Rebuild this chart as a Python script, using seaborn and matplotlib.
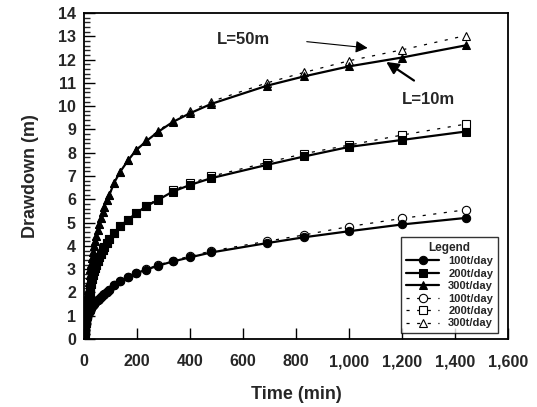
import numpy as np
import pandas as pd
import matplotlib
matplotlib.use('Agg')
import matplotlib.pyplot as plt
import seaborn as sns
from matplotlib.ticker import MultipleLocator, FuncFormatter

# pumping time (min)
time_min = [0, 1, 2, 3, 4, 5, 6, 8, 10, 12, 14, 17, 20, 23, 26, 30, 34, 38, 42, 46, 51,
            57, 63, 70, 76, 85, 95, 113, 136, 165, 195, 234, 279, 334, 400, 480,
            690, 830, 1000, 1200, 1440]

# drawdown (m), L=10m (solid, filled markers)
s100_l10 = [0, 0.2, 0.35, 0.45, 0.55, 0.63, 0.7, 0.82, 0.92, 1.0, 1.07, 1.15, 1.22, 1.28,
            1.33, 1.4, 1.46, 1.52, 1.57, 1.62, 1.68, 1.74, 1.8, 1.87, 1.93, 2.02, 2.12,
            2.3, 2.48, 2.65, 2.82, 2.98, 3.15, 3.33, 3.51, 3.72, 4.12, 4.37, 4.63, 4.92, 5.2]
s200_l10 = [0, 0.15, 0.3, 0.45, 0.58, 0.7, 0.8, 1.0, 1.2, 1.38, 1.55, 1.78, 1.98, 2.17,
            2.35, 2.57, 2.75, 2.92, 3.07, 3.2, 3.35, 3.52, 3.67, 3.82, 3.95, 4.12, 4.28,
            4.56, 4.86, 5.12, 5.4, 5.7, 5.98, 6.33, 6.62, 6.91, 7.48, 7.84, 8.25, 8.55, 8.91]
s300_l10 = [0, 0.25, 0.45, 0.65, 0.82, 0.98, 1.12, 1.4, 1.65, 1.9, 2.12, 2.45, 2.75, 3.0,
            3.22, 3.5, 3.75, 3.98, 4.2, 4.42, 4.68, 4.95, 5.2, 5.45, 5.68, 5.95, 6.2,
            6.72, 7.19, 7.67, 8.1, 8.5, 8.9, 9.32, 9.7, 10.1, 10.88, 11.28, 11.71, 12.09, 12.61]

# drawdown (m), L=50m (dashed, open markers)
s100_l50 = [0, 0.2, 0.35, 0.45, 0.55, 0.63, 0.7, 0.82, 0.92, 1.0, 1.07, 1.15, 1.22, 1.28,
            1.33, 1.4, 1.46, 1.52, 1.57, 1.62, 1.68, 1.74, 1.8, 1.87, 1.93, 2.02, 2.12,
            2.3, 2.48, 2.65, 2.83, 3.0, 3.18, 3.37, 3.56, 3.78, 4.2, 4.47, 4.83, 5.18, 5.55]
s200_l50 = [0, 0.15, 0.3, 0.45, 0.58, 0.7, 0.8, 1.0, 1.2, 1.38, 1.55, 1.78, 1.98, 2.17,
            2.35, 2.57, 2.75, 2.92, 3.07, 3.2, 3.35, 3.52, 3.67, 3.82, 3.95, 4.12, 4.28,
            4.56, 4.86, 5.13, 5.42, 5.73, 6.02, 6.38, 6.69, 6.99, 7.58, 7.96, 8.33, 8.76, 9.23]
s300_l50 = [0, 0.25, 0.45, 0.65, 0.82, 0.98, 1.12, 1.4, 1.65, 1.9, 2.12, 2.45, 2.75, 3.0,
            3.22, 3.5, 3.75, 3.98, 4.2, 4.42, 4.68, 4.95, 5.2, 5.45, 5.68, 5.95, 6.2,
            6.72, 7.19, 7.67, 8.12, 8.53, 8.94, 9.38, 9.78, 10.2, 11.0, 11.45, 11.95, 12.42, 13.03]

labels = ['100t/day', '200t/day', '300t/day']

sns.set_style('ticks')
plt.rcParams['font.family'] = ['Liberation Sans', 'DejaVu Sans']
plt.rcParams['font.weight'] = 'bold'

fig = plt.figure(figsize=(5.37, 4.07), dpi=100)
ax = fig.add_axes([0.157, 0.167, 0.789, 0.801])

dashed = [s100_l50, s200_l50, s300_l50]
solid = [s100_l10, s200_l10, s300_l10]
markers = ['o', 's', '^']

for vals, m, lab in zip(solid, markers, labels):
    sns.lineplot(x=time_min, y=vals, ax=ax, color='black', linewidth=1.6, marker=m,
                 markersize=6, markerfacecolor='black', markeredgecolor='black',
                 label=lab, zorder=3)
for vals, m, lab in zip(dashed, markers, labels):
    sns.lineplot(x=time_min, y=vals, ax=ax, color='black', linewidth=0.9,
                 linestyle=(0, (2.5, 6)), marker=m, markersize=6,
                 markerfacecolor='white', markeredgecolor='black', markeredgewidth=0.8,
                 label=lab, zorder=2)

ax.set_xlim(0, 1600)
ax.set_ylim(0, 14)
ax.xaxis.set_major_locator(MultipleLocator(200))
ax.yaxis.set_major_locator(MultipleLocator(1))
ax.yaxis.set_minor_locator(MultipleLocator(0.2))
ax.xaxis.set_major_formatter(FuncFormatter(lambda v, p: f'{int(v):,}'))
ax.tick_params(axis='both', which='major', direction='in', length=8, width=1,
               labelsize=11.5, pad=11, color='black')
ax.tick_params(axis='y', which='minor', direction='in', length=4, width=1)
ax.tick_params(axis='y', which='major', pad=6)
for lbl in ax.get_xticklabels() + ax.get_yticklabels():
    lbl.set_fontweight('bold')
for sp in ax.spines.values():
    sp.set_linewidth(1.3)
    sp.set_color('black')

ax.set_xlabel('Time (min)', fontsize=13, fontweight='bold', labelpad=12)
ax.set_ylabel('Drawdown (m)', fontsize=13, fontweight='bold', labelpad=14)

# labels for the two cases, with pointer arrows
ax.text(600, 12.85, 'L=50m', fontsize=12, fontweight='bold', ha='center', va='center')
ax.annotate('', xy=(1070, 12.5), xytext=(840, 12.77),
            arrowprops=dict(arrowstyle='-|>', color='black', lw=0.8,
                            mutation_scale=18, shrinkA=0, shrinkB=0))
ax.text(1300, 10.3, 'L=10m', fontsize=12, fontweight='bold', ha='center', va='center')
ax.annotate('', xy=(1140, 11.9), xytext=(1245, 11.1),
            arrowprops=dict(arrowstyle='-|>', color='black', lw=1.6,
                            mutation_scale=18, shrinkA=0, shrinkB=0))

leg = ax.legend(title='Legend', loc='lower right', bbox_to_anchor=(0.99, 0.0),
                fontsize=8, title_fontsize=8.5, frameon=True, fancybox=False,
                edgecolor='black', handlelength=3.0, labelspacing=0.22,
                borderpad=0.45, handletextpad=0.8)
leg.get_frame().set_linewidth(1.0)
leg.get_title().set_fontweight('bold')
for t in leg.get_texts():
    t.set_fontweight('bold')

fig.savefig('out.png', dpi=100)
